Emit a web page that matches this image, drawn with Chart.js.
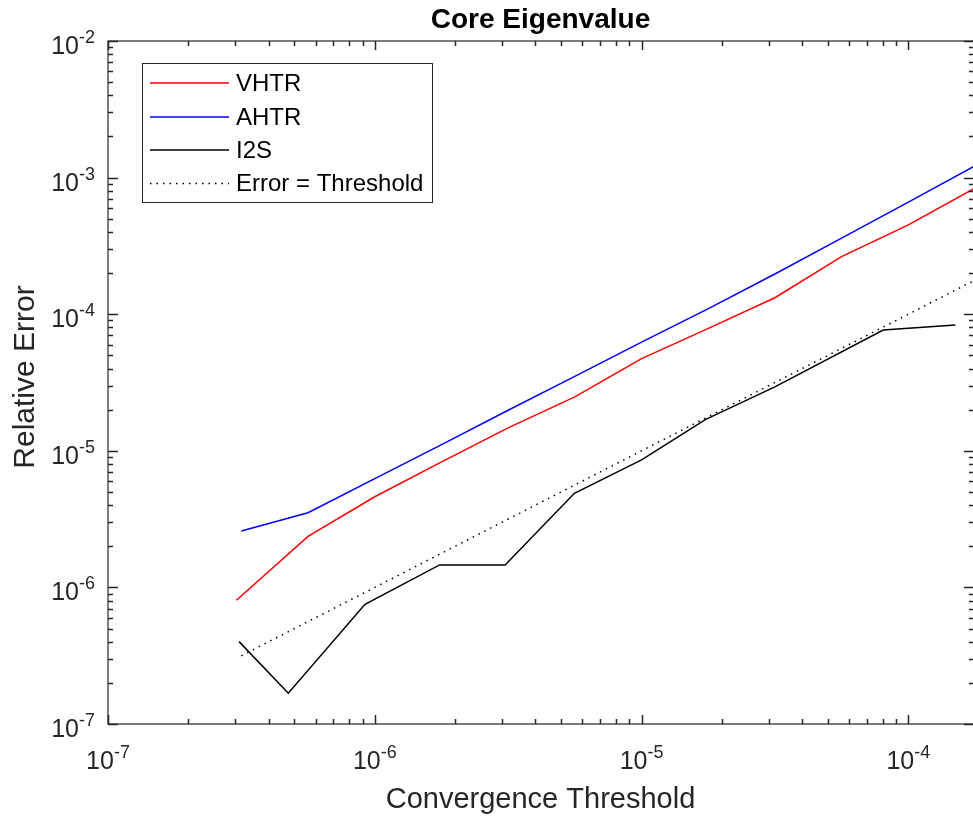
<!DOCTYPE html>
<html>
<head>
<meta charset="utf-8">
<title>Core Eigenvalue</title>
<script src="https://cdn.jsdelivr.net/npm/chart.js@4.4.1/dist/chart.umd.min.js"></script>
<style>
  html, body { margin: 0; padding: 0; background: #fff; overflow: hidden; }
</style>
</head>
<body>
<canvas id="eigChart" width="976" height="819"></canvas>
<script>
// data (convergence threshold -> relative error)
const vhtrX = [3.03e-7, 5.62e-7, 1.0e-6, 1.78e-6, 3.16e-6, 5.62e-6, 1.0e-5, 1.78e-5, 3.16e-5, 5.62e-5, 1.0e-4, 1.78e-4];
const vhtrY = [8.05e-7, 2.36e-6, 4.61e-6, 8.3e-6, 1.47e-5, 2.48e-5, 4.73e-5, 7.88e-5, 1.32e-4, 2.64e-4, 4.51e-4, 8.41e-4];

const ahtrX = [3.16e-7, 5.62e-7, 1.0e-6, 1.78e-6, 3.16e-6, 5.62e-6, 1.0e-5, 1.78e-5, 3.16e-5, 5.62e-5, 1.0e-4, 1.78e-4];
const ahtrY = [2.59e-6, 3.52e-6, 6.26e-6, 1.11e-5, 1.98e-5, 3.51e-5, 6.24e-5, 1.10e-4, 1.97e-4, 3.6e-4, 6.62e-4, 1.22e-3];

const i2sX = [3.1e-7, 4.74e-7, 9.19e-7, 1.75e-6, 3.08e-6, 5.6e-6, 1.0e-5, 1.74e-5, 3.16e-5, 8.05e-5, 1.5e-4];
const i2sY = [4.01e-7, 1.68e-7, 7.52e-7, 1.46e-6, 1.46e-6, 4.89e-6, 8.57e-6, 1.70e-5, 2.94e-5, 7.66e-5, 8.34e-5];

const thrX = [3.16e-7, 1.78e-4];
const thrY = [3.16e-7, 1.78e-4];

// tick labels are powers of ten
const xTickExps = [-7, -6, -5, -4];
const yTickExps = [-7, -6, -5, -4, -3, -2];

const TEXT = "#262626";
const FONT = "'Liberation Sans', Arial, sans-serif";

function pts(xs, ys) {
  return xs.map((x, i) => ({ x: x, y: ys[i] }));
}

// draws "10" with a raised exponent, y is the baseline of "10"
function drawPow(ctx, exp, x, y, align) {
  ctx.font = "25px " + FONT;
  const wb = ctx.measureText("10").width;
  ctx.font = "18px " + FONT;
  const ws = ctx.measureText(String(exp)).width;
  const left = align === "center" ? x - (wb + ws) / 2 : x - wb - ws;
  ctx.textAlign = "left";
  ctx.textBaseline = "alphabetic";
  ctx.fillStyle = TEXT;
  ctx.font = "25px " + FONT;
  ctx.fillText("10", left, y);
  ctx.font = "18px " + FONT;
  ctx.fillText(String(exp), left + wb, y - 11);
}

const matlabAxes = {
  id: "matlabAxes",
  afterDraw(chart) {
    const ctx = chart.ctx;
    const area = chart.chartArea;
    const xs = chart.scales.x;
    const ys = chart.scales.y;
    ctx.save();

    // box
    ctx.strokeStyle = TEXT;
    ctx.lineWidth = 1.2;
    ctx.strokeRect(area.left, area.top, area.right - area.left, area.bottom - area.top);

    // ticks (inside, on all four sides)
    ctx.beginPath();
    for (let k = -7; k <= -3; k++) {
      for (let m = 1; m <= 9; m++) {
        const v = m * Math.pow(10, k);
        if (v < xs.min * 0.999 || v > xs.max) continue;
        const px = Math.round(xs.getPixelForValue(v)) + 0.5;
        const len = m === 1 ? 9 : 5;
        ctx.moveTo(px, area.bottom); ctx.lineTo(px, area.bottom - len);
        ctx.moveTo(px, area.top); ctx.lineTo(px, area.top + len);
      }
    }
    for (let k = -7; k <= -2; k++) {
      for (let m = 1; m <= 9; m++) {
        const v = m * Math.pow(10, k);
        if (v < ys.min * 0.999 || v > ys.max * 1.001) continue;
        const py = Math.round(ys.getPixelForValue(v)) + 0.5;
        const len = m === 1 ? 10 : 5;
        ctx.moveTo(area.left, py); ctx.lineTo(area.left + len, py);
        ctx.moveTo(area.right, py); ctx.lineTo(area.right - len, py);
      }
    }
    ctx.lineWidth = 1.5;
    ctx.stroke();

    // tick labels
    xTickExps.forEach(e => {
      drawPow(ctx, e, xs.getPixelForValue(Math.pow(10, e)), 769, "center");
    });
    yTickExps.forEach(e => {
      drawPow(ctx, e, 95, ys.getPixelForValue(Math.pow(10, e)) + 13, "right");
    });

    // title and axis titles
    ctx.fillStyle = "#000";
    ctx.textAlign = "center";
    ctx.textBaseline = "alphabetic";
    ctx.font = "bold 28px " + FONT;
    ctx.fillText("Core Eigenvalue", (area.left + 973) / 2, 28);

    ctx.fillStyle = TEXT;
    ctx.font = "29px " + FONT;
    ctx.fillText("Convergence Threshold", (area.left + 973) / 2, 808);

    ctx.save();
    ctx.translate(33.5, 377);
    ctx.rotate(-Math.PI / 2);
    ctx.font = "30px " + FONT;
    ctx.fillText("Relative Error", 0, 0);
    ctx.restore();

    // legend box
    const lx = 142, ly = 63, lw = 290, lh = 139;
    ctx.fillStyle = "#fff";
    ctx.fillRect(lx, ly, lw, lh);
    ctx.strokeStyle = TEXT;
    ctx.lineWidth = 1;
    ctx.strokeRect(lx + 0.5, ly + 0.5, lw, lh);

    const rowY = [83, 117, 150, 183.5];
    ctx.font = "24px " + FONT;
    ctx.textAlign = "left";
    ctx.textBaseline = "middle";
    chart.data.datasets.forEach((ds, i) => {
      ctx.beginPath();
      ctx.strokeStyle = ds.borderColor;
      ctx.lineWidth = ds.borderWidth;
      ctx.setLineDash(ds.borderDash || []);
      ctx.moveTo(150, rowY[i]);
      ctx.lineTo(229, rowY[i]);
      ctx.stroke();
      ctx.setLineDash([]);
      ctx.fillStyle = "#000";
      ctx.fillText(ds.label, 236, rowY[i] + 1);
    });

    ctx.restore();
  }
};

const ctx = document.getElementById("eigChart").getContext("2d");

new Chart(ctx, {
  type: "scatter",
  data: {
    datasets: [
      {
        label: "VHTR",
        data: pts(vhtrX, vhtrY),
        showLine: true,
        borderColor: "#ff0000",
        borderWidth: 1.5,
        pointRadius: 0,
      },
      {
        label: "AHTR",
        data: pts(ahtrX, ahtrY),
        showLine: true,
        borderColor: "#0000ff",
        borderWidth: 1.5,
        pointRadius: 0,
      },
      {
        label: "I2S",
        data: pts(i2sX, i2sY),
        showLine: true,
        borderColor: "#000000",
        borderWidth: 1.5,
        pointRadius: 0,
      },
      {
        label: "Error = Threshold",
        data: pts(thrX, thrY),
        showLine: true,
        borderColor: "#000000",
        borderWidth: 1.5,
        borderDash: [1.5, 5],
        pointRadius: 0,
      },
    ],
  },
  options: {
    responsive: false,
    animation: false,
    layout: {
      padding: { left: 108, top: 41, right: 2, bottom: 95 },
    },
    plugins: {
      legend: { display: false },
      title: { display: false },
      tooltip: { enabled: false },
    },
    scales: {
      x: {
        type: "logarithmic",
        min: 1e-7,
        max: 1.762e-4,
        display: false,
      },
      y: {
        type: "logarithmic",
        min: 1e-7,
        max: 1e-2,
        display: false,
      },
    },
  },
  plugins: [matlabAxes],
});
</script>
</body>
</html>
